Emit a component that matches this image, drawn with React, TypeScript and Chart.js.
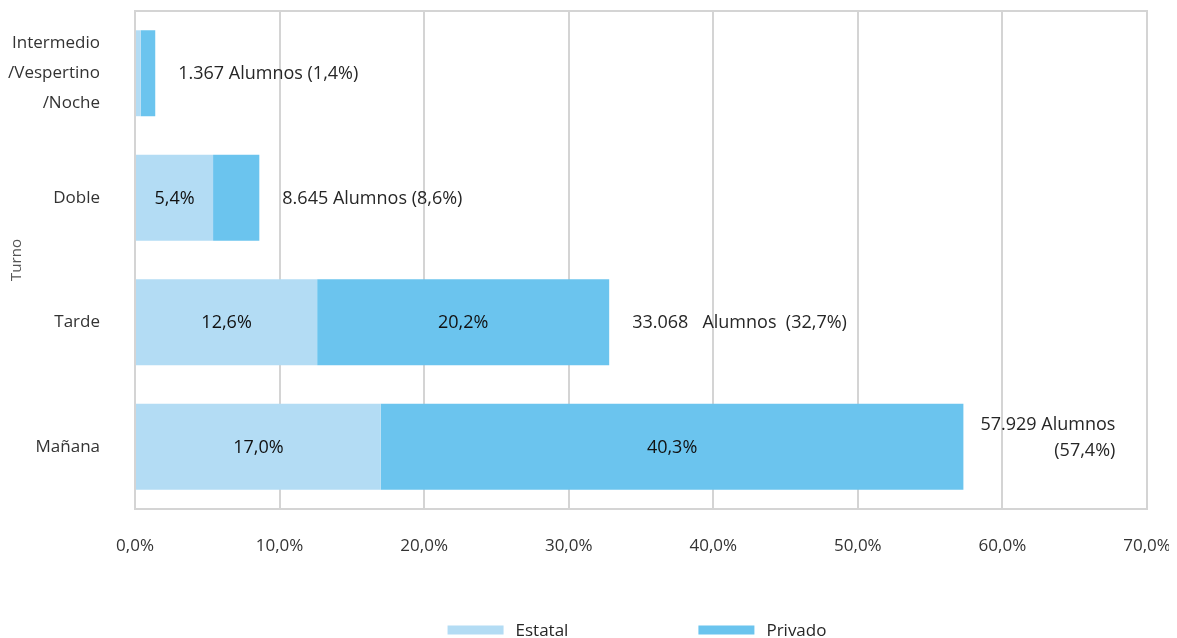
import React, { useEffect, useRef } from "react";
import { Chart, registerables } from "chart.js";

Chart.register(...registerables);

const categories: (string | string[])[] = [
  ["Intermedio", "/Vespertino", "/Noche"],
  "Doble",
  "Tarde",
  "Mañana",
];
const estatal = [0.4, 5.4, 12.6, 17.0];
const privado = [1.0, 3.2, 20.2, 40.3];
const totalLabels: string[][] = [
  ["1.367 Alumnos (1,4%)"],
  ["8.645 Alumnos (8,6%)"],
  ["33.068   Alumnos  (32,7%)"],
  ["57.929 Alumnos", "(57,4%)"],
];
const xTicks = [0, 10, 20, 30, 40, 50, 60, 70];
const seriesNames = ["Estatal", "Privado"];
const seriesColors = ["#b3dcf4", "#6bc4ee"];

const FONT = "'Open Sans', 'Liberation Sans', sans-serif";

const fmt = (v: number) => v.toFixed(1).replace(".", ",") + "%";

const boxPlugin = {
  id: "boxPlugin",
  beforeDatasetsDraw(chart: any) {
    const { ctx, chartArea } = chart;
    ctx.save();
    ctx.strokeStyle = "#d4d4d4";
    ctx.lineWidth = 2;
    ctx.strokeRect(chartArea.left, chartArea.top, chartArea.right - chartArea.left, chartArea.bottom - chartArea.top);
    ctx.restore();
  },
};

const labelPlugin = {
  id: "labelPlugin",
  afterDatasetsDraw(chart: any) {
    const { ctx } = chart;
    const xScale = chart.scales.x;
    ctx.save();
    ctx.textBaseline = "middle";
    // inside labels
    ctx.fillStyle = "#111111";
    ctx.font = `500 18px ${FONT}`;
    chart.data.datasets.forEach((ds: any, di: number) => {
      const meta = chart.getDatasetMeta(di);
      meta.data.forEach((bar: any, i: number) => {
        const v = ds.data[i];
        if (v < 5) return;
        ctx.textAlign = "center";
        ctx.fillText(fmt(v), (bar.base + bar.x) / 2, bar.y + 1);
      });
    });
    // total labels
    ctx.font = `18px ${FONT}`;
    ctx.fillStyle = "#262626";
    const meta1 = chart.getDatasetMeta(1);
    totalLabels.forEach((lines, i) => {
      const total = estatal[i] + privado[i];
      const bar = meta1.data[i];
      const xEnd = xScale.getPixelForValue(total);
      const y = bar.y;
      if (lines.length === 1) {
        ctx.textAlign = "left";
        ctx.fillText(lines[0], xEnd + 23, y + 1);
      } else {
        const w = ctx.measureText(lines[0]).width;
        const rightEdge = xEnd + 17 + w;
        ctx.textAlign = "right";
        lines.forEach((ln, k) => {
          ctx.fillText(ln, rightEdge, y - 22 + k * 26);
        });
      }
    });
    ctx.restore();
  },
};

const legendPlugin = {
  id: "customLegend",
  afterDraw(chart: any) {
    const { ctx, chartArea } = chart;
    ctx.save();
    ctx.font = `17px ${FONT}`;
    ctx.textBaseline = "middle";
    ctx.textAlign = "left";
    const boxW = 56;
    const boxH = 9;
    const gapText = 12;
    const itemGap = 130;
    const widths = chart.data.datasets.map((ds: any) => boxW + gapText + ctx.measureText(ds.label).width);
    const total = widths.reduce((a: number, b: number) => a + b, 0) + itemGap * (widths.length - 1);
    let x = (chartArea.left + chartArea.right) / 2 - total / 2 - 4;
    const y = chart.height - 8;
    chart.data.datasets.forEach((ds: any, i: number) => {
      ctx.fillStyle = ds.backgroundColor;
      ctx.fillRect(x, y - boxH / 2, boxW, boxH);
      ctx.fillStyle = "#262626";
      ctx.fillText(ds.label, x + boxW + gapText, y + 1);
      x += widths[i] + itemGap;
    });
    ctx.restore();
  },
};

export default function App() {
  const ref = useRef<HTMLCanvasElement | null>(null);
  useEffect(() => {
    if (!ref.current) return;
    const chart = new Chart(ref.current, {
      type: "bar",
      data: {
        labels: categories,
        datasets: seriesNames.map((name, k) => ({
          label: name,
          data: k === 0 ? estatal : privado,
          backgroundColor: seriesColors[k],
          borderWidth: 0,
          barPercentage: 0.69,
          categoryPercentage: 1,
        })),
      },
      options: {
        indexAxis: "y",
        animation: false,
        responsive: true,
        maintainAspectRatio: false,
        layout: { padding: { top: 3, right: 0, left: 0, bottom: 0 } },
        scales: {
          x: {
            stacked: true,
            min: 0,
            max: 70,
            afterBuildTicks: (axis: any) => {
              axis.ticks = xTicks.map((v) => ({ value: v }));
            },
            afterFit: (axis: any) => {
              axis.height = 129;
              axis.paddingRight = 22;
              axis.paddingLeft = 0;
            },
            ticks: {
              callback: (v: any) => fmt(Number(v)),
              color: "#333333",
              font: { family: FONT, size: 17 },
              padding: 27,
              maxRotation: 0,
            },
            grid: { color: "#d4d4d4", lineWidth: 2, drawTicks: false },
            border: { display: true, color: "#d4d4d4", width: 2 },
          },
          y: {
            stacked: true,
            afterFit: (axis: any) => {
              axis.width = 127;
              axis.paddingTop = 0;
              axis.paddingBottom = 0;
            },
            ticks: {
              color: "#333333",
              font: { family: FONT, size: 17, lineHeight: 1.75 },
              padding: 35,
            },
            grid: { display: false, drawTicks: false },
            border: { display: true, color: "#d4d4d4", width: 2 },
            title: {
              display: true,
              text: "Turno",
              color: "#555555",
              font: { family: FONT, size: 15 },
              padding: { top: 0, bottom: 0 },
            },
          },
        },
        plugins: {
          legend: { display: false },
          tooltip: { enabled: false },
        },
      },
      plugins: [boxPlugin, labelPlugin, legendPlugin],
    });
    return () => chart.destroy();
  }, []);
  return (
    <div style={{ width: 1161, height: 630, position: "relative" }}>
      <canvas ref={ref} />
    </div>
  );
}
